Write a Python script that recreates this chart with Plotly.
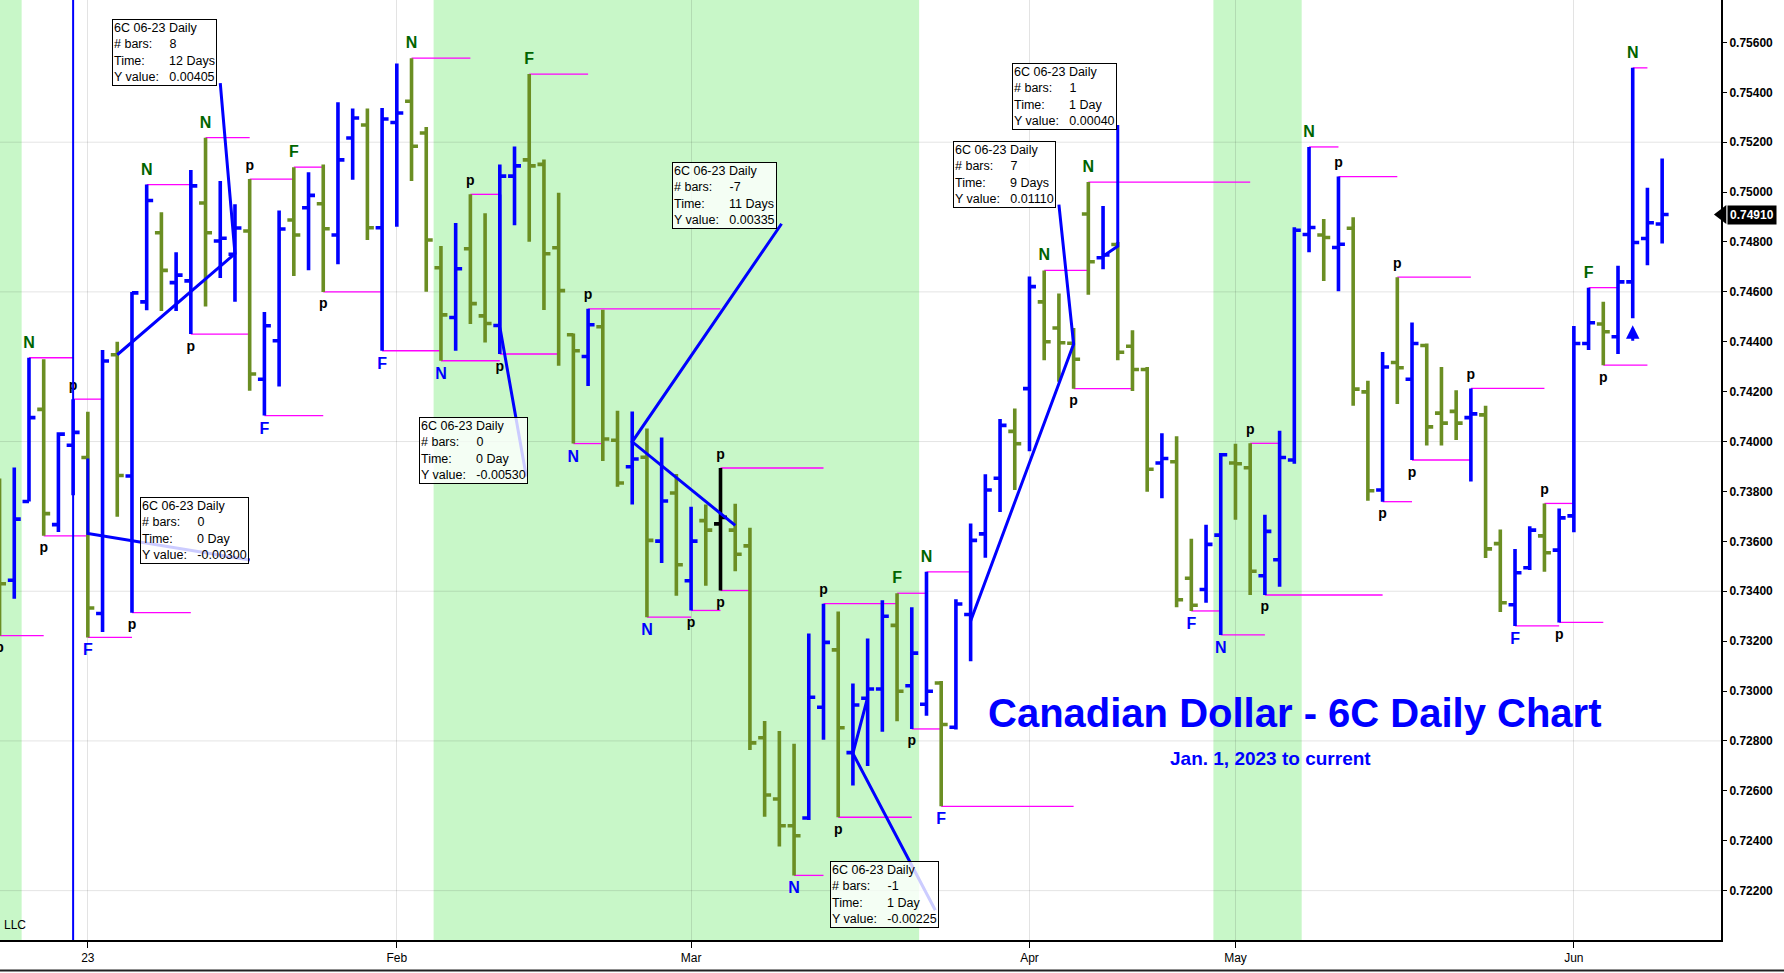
import plotly.graph_objects as go

# ---------------- DATA ----------------
bar_index = list(range(-6, 108))

opens = [0.7380, 0.73444, 0.7376, 0.74129, 0.73667, 0.73985, 0.73936, 0.73311, 0.74348, 0.73862,
         0.7456, 0.74837, 0.74637, 0.74644, 0.74956, 0.74804, 0.74751, 0.74844, 0.7425, 0.74404,
         0.74888, 0.74937, 0.74953, 0.74828, 0.75217, 0.75269, 0.74857, 0.75279, 0.75364, 0.75237,
         0.74697, 0.74497, 0.74773, 0.74504, 0.74465, 0.75064, 0.75129, 0.75111, 0.74777, 0.74428,
         0.74341, 0.7446, 0.74005, 0.73899, 0.73937, 0.73601, 0.73794, 0.73442, 0.73683, 0.7367,
         0.73645, 0.73582, 0.72813, 0.72567, 0.7246, 0.72491, 0.72935, 0.73165, 0.72753, 0.72971,
         0.73008, 0.73263, 0.73021, 0.72947, 0.73032, 0.72855, 0.73307, 0.7363, 0.73853, 0.74041,
         0.74212, 0.7456, 0.74455, 0.74394, 0.74912, 0.74737, 0.7479, 0.74382, 0.74289, 0.73914,
         0.73919, 0.73452, 0.73407, 0.73625, 0.73914, 0.73895, 0.73462, 0.73526, 0.73926, 0.7483,
         0.74828, 0.74778, 0.74855, 0.74199, 0.73806, 0.74317, 0.7425, 0.74385, 0.74114, 0.74121,
         0.74096, 0.74107, 0.73591, 0.73346, 0.73494, 0.73622, 0.73565, 0.73702, 0.74393, 0.74471,
         0.7442, 0.7464, 0.74814, 0.74872]
highs = [0.73852, 0.73896, 0.74336, 0.7433, 0.74037, 0.7417, 0.74119, 0.74367, 0.744, 0.746,
         0.7503, 0.74919, 0.74759, 0.75089, 0.75218, 0.75044, 0.74951, 0.75052, 0.74519, 0.74926,
         0.751, 0.7508, 0.75111, 0.7536, 0.75335, 0.75335, 0.75337, 0.75515, 0.75537, 0.75261,
         0.74784, 0.74876, 0.74991, 0.74915, 0.75111, 0.75183, 0.75473, 0.75131, 0.74997, 0.74433,
         0.74532, 0.74528, 0.74124, 0.7412, 0.74052, 0.74016, 0.7387, 0.73739, 0.73748, 0.73894,
         0.73751, 0.73655, 0.7288, 0.7284, 0.72789, 0.73231, 0.7335, 0.73319, 0.7303, 0.73211,
         0.73364, 0.73392, 0.73336, 0.73478, 0.7304, 0.73368, 0.73672, 0.73869, 0.7409, 0.74133,
         0.74662, 0.74686, 0.74594, 0.74455, 0.7504, 0.74944, 0.748, 0.74446, 0.74299, 0.74033,
         0.74021, 0.7361, 0.73667, 0.73954, 0.73991, 0.73993, 0.73707, 0.74043, 0.74859, 0.75181,
         0.74892, 0.75062, 0.74899, 0.74244, 0.74359, 0.74659, 0.74477, 0.74393, 0.74299, 0.74206,
         0.74213, 0.74144, 0.73647, 0.73569, 0.73661, 0.73752, 0.73732, 0.74463, 0.74617, 0.7456,
         0.74705, 0.75498, 0.75017, 0.75135]
lows = [0.73222, 0.7337, 0.7376, 0.73622, 0.73637, 0.73785, 0.73215, 0.73237, 0.73699, 0.73314,
        0.74526, 0.74523, 0.74523, 0.74431, 0.74541, 0.74656, 0.7456, 0.74204, 0.74104, 0.74221,
        0.74664, 0.74687, 0.746, 0.74711, 0.75049, 0.74808, 0.74364, 0.74861, 0.75044, 0.74601,
        0.74324, 0.74364, 0.74471, 0.74397, 0.74351, 0.74867, 0.74801, 0.74527, 0.74304, 0.73992,
        0.74223, 0.73922, 0.73819, 0.73748, 0.73296, 0.73513, 0.73382, 0.73323, 0.73422, 0.73403,
        0.7348, 0.72764, 0.72496, 0.72377, 0.72261, 0.72483, 0.72805, 0.72494, 0.72621, 0.72699,
        0.72837, 0.72879, 0.72848, 0.72901, 0.72538, 0.72846, 0.73119, 0.73534, 0.73718, 0.73806,
        0.73961, 0.74326, 0.7424, 0.74212, 0.74588, 0.74691, 0.74326, 0.74203, 0.73799, 0.73773,
        0.73336, 0.73321, 0.73354, 0.73225, 0.73687, 0.73385, 0.73385, 0.73418, 0.73911, 0.74759,
        0.74644, 0.74603, 0.74144, 0.73763, 0.73759, 0.74151, 0.73926, 0.73984, 0.73984, 0.74006,
        0.7384, 0.73533, 0.73317, 0.73261, 0.73485, 0.73478, 0.73275, 0.73636, 0.74367, 0.74306,
        0.74351, 0.74494, 0.74707, 0.74794]
closes = [0.7343, 0.73689, 0.74096, 0.73711, 0.7403, 0.74037, 0.73333, 0.74323, 0.73864, 0.74596,
          0.74966, 0.74686, 0.74667, 0.75025, 0.74837, 0.74815, 0.74856, 0.74271, 0.74464, 0.74852,
          0.74828, 0.74987, 0.74853, 0.75129, 0.75297, 0.74857, 0.75293, 0.75317, 0.75184, 0.74808,
          0.74508, 0.74693, 0.74553, 0.74473, 0.75064, 0.75105, 0.75105, 0.74753, 0.74605, 0.74364,
          0.74468, 0.7401, 0.73834, 0.7393, 0.73604, 0.73762, 0.73506, 0.73601, 0.73645, 0.73696,
          0.73548, 0.72792, 0.72583, 0.7246, 0.7242, 0.72975, 0.73195, 0.72853, 0.72944, 0.73008,
          0.733, 0.72999, 0.73152, 0.72999, 0.72866, 0.73349, 0.73604, 0.73806, 0.74065, 0.73991,
          0.74621, 0.744, 0.74396, 0.7433, 0.74721, 0.74748, 0.74358, 0.74289, 0.73889, 0.73932,
          0.73366, 0.73344, 0.73588, 0.73947, 0.73911, 0.7348, 0.7364, 0.73936, 0.74847, 0.74858,
          0.74818, 0.74791, 0.7421, 0.73803, 0.74299, 0.74296, 0.74393, 0.74059, 0.74074, 0.74074,
          0.74111, 0.7357, 0.73354, 0.73474, 0.73645, 0.73554, 0.73694, 0.74393, 0.74476, 0.7444,
          0.7464, 0.74798, 0.74877, 0.7491]
black_bars = [43]

# month ticks (bar index of first session) and labels
tick_index = [0, 21, 41, 64, 78, 101]
tick_text = ["23", "Feb", "Mar", "Apr", "May", "Jun"]
price_ticks = [round(0.722 + 0.002 * k, 3) for k in range(18)]
grid_prices = [0.722, 0.728, 0.734, 0.740, 0.746, 0.752]

# shaded periods (bar index ranges)
shade_ranges = [(-7.0, -4.5), (23.5, 56.5), (76.5, 82.5)]
cycle_line_index = [-1]

# swing labels: (bar index, label, bar index where the level line ends)
high_marks = [(-4, "N", -1), (-1, "p", 1), (4, "N", 7), (8, "N", 11), (11, "p", 14), (14, "F", 16),
              (22, "N", 26), (26, "p", 28), (30, "F", 34), (34, "p", 43), (43, "p", 50), (50, "p", 55),
              (55, "F", 57), (57, "N", 60), (65, "N", 68), (68, "N", 79), (79, "p", 81), (83, "N", 85),
              (85, "p", 89), (89, "p", 94), (94, "p", 99), (99, "p", 101), (102, "F", 104), (105, "N", 106)]
low_marks = [(-6, "p", -3), (-3, "p", 0), (0, "F", 3), (3, "p", 7), (7, "p", 11), (12, "F", 16),
             (16, "p", 20), (20, "F", 24), (24, "N", 28), (28, "p", 32), (33, "N", 35), (38, "N", 41),
             (41, "p", 43), (43, "p", 45), (48, "N", 50), (51, "p", 56), (56, "p", 58), (58, "F", 67),
             (67, "p", 71), (75, "F", 77), (77, "N", 80), (80, "p", 88), (88, "p", 90), (90, "p", 94),
             (97, "F", 100), (100, "p", 103), (103, "p", 106)]
arrow_bars = [105]

# measurement tool lines: start, end, leader end (bar index, price)
measure_x = [[2, 10, 9.0], [0, 0, 11.0], [28, 28, 29.8], [44, 37, 47.15],
             [53, 52, 57.6], [69, 70, 70], [60, 67, 66.0]]
measure_y = [[0.74348, 0.74753, 0.75437], [0.73932, 0.73632, 0.73525], [0.7499, 0.7446, 0.7386],
             [0.73664, 0.73999, 0.74873], [0.72975, 0.7275, 0.72121], [0.74743, 0.74783, 0.75269],
             [0.73281, 0.74391, 0.7495]]
measure_bars = ["8", "0", "0", "-7", "-1", "1", "7"]
measure_time = ["12 Days", "0 Day", "0 Day", "11 Days", "1 Day", "1 Day", "9 Days"]
measure_yval = ["0.00405", "-0.00300", "-0.00530", "0.00335", "-0.00225", "0.00040", "0.01110"]
box_anchor_x = [1.61, 3.55, 22.49, 39.73, 50.47, 62.84, 58.83]
box_anchor_y = [0.75693, 0.73777, 0.7410, 0.75122, 0.72318, 0.75519, 0.75204]

title_text = "Canadian Dollar - 6C Daily Chart"
subtitle_text = "Jan. 1, 2023 to current"

# ---------------- STYLE ----------------
BLUE = "#0000FF"
OLIVE = "#6B8E23"
DKGREEN = "#006400"
MAGENTA = "#FF00FF"
SHADE = "rgb(200,247,200)"
GRID = "rgba(0,0,0,0.11)"
FONT = "Liberation Sans, Arial, sans-serif"
NARROW = "Liberation Sans Narrow, Arial Narrow, Liberation Sans, sans-serif"

pos = {b: i for i, b in enumerate(bar_index)}

fig = go.Figure()

# ---- OHLC bars ----
normal = [b for b in bar_index if b not in black_bars]
fig.add_trace(go.Ohlc(
    x=normal,
    open=[opens[pos[b]] for b in normal], high=[highs[pos[b]] for b in normal],
    low=[lows[pos[b]] for b in normal], close=[closes[pos[b]] for b in normal],
    increasing=dict(line=dict(color=BLUE, width=3.6)),
    decreasing=dict(line=dict(color=OLIVE, width=3.6)),
    tickwidth=0.44, hoverinfo="skip"))
fig.add_trace(go.Ohlc(
    x=black_bars,
    open=[opens[pos[b]] for b in black_bars], high=[highs[pos[b]] for b in black_bars],
    low=[lows[pos[b]] for b in black_bars], close=[closes[pos[b]] for b in black_bars],
    increasing=dict(line=dict(color="black", width=3.6)),
    decreasing=dict(line=dict(color="black", width=3.6)),
    tickwidth=0.44, hoverinfo="skip"))

# ---- measurement lines ----
mx, my = [], []
for xs, ys in zip(measure_x, measure_y):
    mx += xs + [None]
    my += ys + [None]
fig.add_trace(go.Scatter(x=mx, y=my, mode="lines", line=dict(color=BLUE, width=3),
                         hoverinfo="skip"))

# ---- swing labels ----
def label_color(t, above):
    if t == "p":
        return "black"
    return DKGREEN if above else BLUE

for marks, series, above in ((high_marks, highs, True), (low_marks, lows, False)):
    xs = [m[0] for m in marks]
    ys = [series[pos[m[0]]] for m in marks]
    txt = [m[1] for m in marks]
    cols = [label_color(m[1], above) for m in marks]
    sizes = [14 if m[1] == "p" else 16 for m in marks]
    fig.add_trace(go.Scatter(
        x=xs, y=ys, mode="markers+text", text=txt,
        textposition="top center" if above else "bottom center",
        textfont=dict(family=FONT, size=sizes, color=cols, weight="bold"),
        marker=dict(size=8, color="rgba(0,0,0,0)"), hoverinfo="skip"))

shapes = []
# shading
for x0, x1 in shade_ranges:
    shapes.append(dict(type="rect", xref="x", yref="paper", x0=x0, x1=x1, y0=0, y1=1,
                       fillcolor=SHADE, line=dict(width=0), layer="below"))
# horizontal grid
for g in grid_prices:
    shapes.append(dict(type="line", xref="paper", yref="y", x0=0, x1=1, y0=g, y1=g,
                       line=dict(color=GRID, width=1), layer="below"))
# level lines
for marks, series in ((high_marks, highs), (low_marks, lows)):
    for b, t, e in marks:
        v = series[pos[b]]
        shapes.append(dict(type="line", xref="x", yref="y", x0=b, x1=e, y0=v, y1=v,
                           line=dict(color=MAGENTA, width=1.3), layer="between"))
# cycle line
for c in cycle_line_index:
    shapes.append(dict(type="line", xref="x", yref="paper", x0=c, x1=c, y0=0, y1=1,
                       line=dict(color=BLUE, width=2)))
# last price tag pointer
last = closes[-1]
shapes.append(dict(type="path", xref="paper", yref="y",
                   path=f"M 0.9959,{last} L 1.0031,{last + 0.00038} L 1.0031,{last - 0.00038} Z",
                   fillcolor="black", line=dict(width=0)))
# bottom frame line
shapes.append(dict(type="line", xref="paper", yref="paper", x0=0, x1=1.04, y0=-0.0325, y1=-0.0325,
                   line=dict(color="#222", width=2)))

annotations = []
NB = "\u00a0"
for i in range(len(measure_bars)):
    txt = ("6C 06-23 Daily<br># bars:" + NB * 5 + measure_bars[i] +
           "<br>Time:" + NB * 7 + measure_time[i] +
           "<br>Y value:" + NB * 3 + measure_yval[i])
    annotations.append(dict(x=box_anchor_x[i], y=box_anchor_y[i], xref="x", yref="y",
                            xanchor="left", yanchor="top", text=txt, align="left",
                            showarrow=False, font=dict(family=FONT, size=12.5, color="black"),
                            bgcolor="rgba(255,255,255,0.8)", bordercolor="black",
                            borderwidth=1, borderpad=1))
for b in arrow_bars:
    annotations.append(dict(x=b, y=lows[pos[b]], xref="x", yref="y", text="", showarrow=True,
                            ax=0, ay=24, arrowhead=2, arrowsize=0.9, arrowwidth=3,
                            arrowcolor=BLUE, standoff=7))
annotations.append(dict(x=82.0, y=0.7291, xref="x", yref="y", text=title_text, showarrow=False,
                        font=dict(family=FONT, size=40, color=BLUE, weight="bold")))
annotations.append(dict(x=80.4, y=0.72728, xref="x", yref="y", text=subtitle_text, showarrow=False,
                        font=dict(family=FONT, size=19, color=BLUE, weight="bold")))
annotations.append(dict(x=1.0033, y=last, xref="paper", yref="y", xanchor="left", text=f"{last:.5f}",
                        showarrow=False, bgcolor="black", borderpad=2,
                        font=dict(family=FONT, size=12, color="white", weight="bold")))
annotations.append(dict(x=0.001, y=0.006, xref="paper", yref="paper", xanchor="left", yanchor="bottom",
                        text="LLC", showarrow=False, font=dict(family=NARROW, size=12, color="black")))

fig.update_layout(
    width=1784, height=973,
    margin=dict(l=0, r=63, t=0, b=33),
    paper_bgcolor="white", plot_bgcolor="white",
    showlegend=False, hovermode=False,
    shapes=shapes, annotations=annotations,
    xaxis=dict(range=[-5.97, 111.0], tickvals=tick_index, ticktext=tick_text,
               showgrid=True, gridcolor=GRID, gridwidth=1, zeroline=False,
               showline=True, linecolor="black", linewidth=2,
               ticks="outside", ticklen=6, tickcolor="black",
               tickfont=dict(family=NARROW, size=12, color="black"),
               rangeslider=dict(visible=False)),
    yaxis=dict(side="right", range=[0.72002, 0.7577], tickvals=price_ticks, tickformat=".5f",
               showgrid=False, zeroline=False, showline=True, linecolor="black", linewidth=2,
               ticks="outside", ticklen=4, tickcolor="black",
               tickfont=dict(family=FONT, size=12, color="black", weight="bold")),
)

fig.write_html("out.html", config={"displayModeBar": False},
               post_script="document.body.style.margin='0';document.body.style.overflow='hidden';")
